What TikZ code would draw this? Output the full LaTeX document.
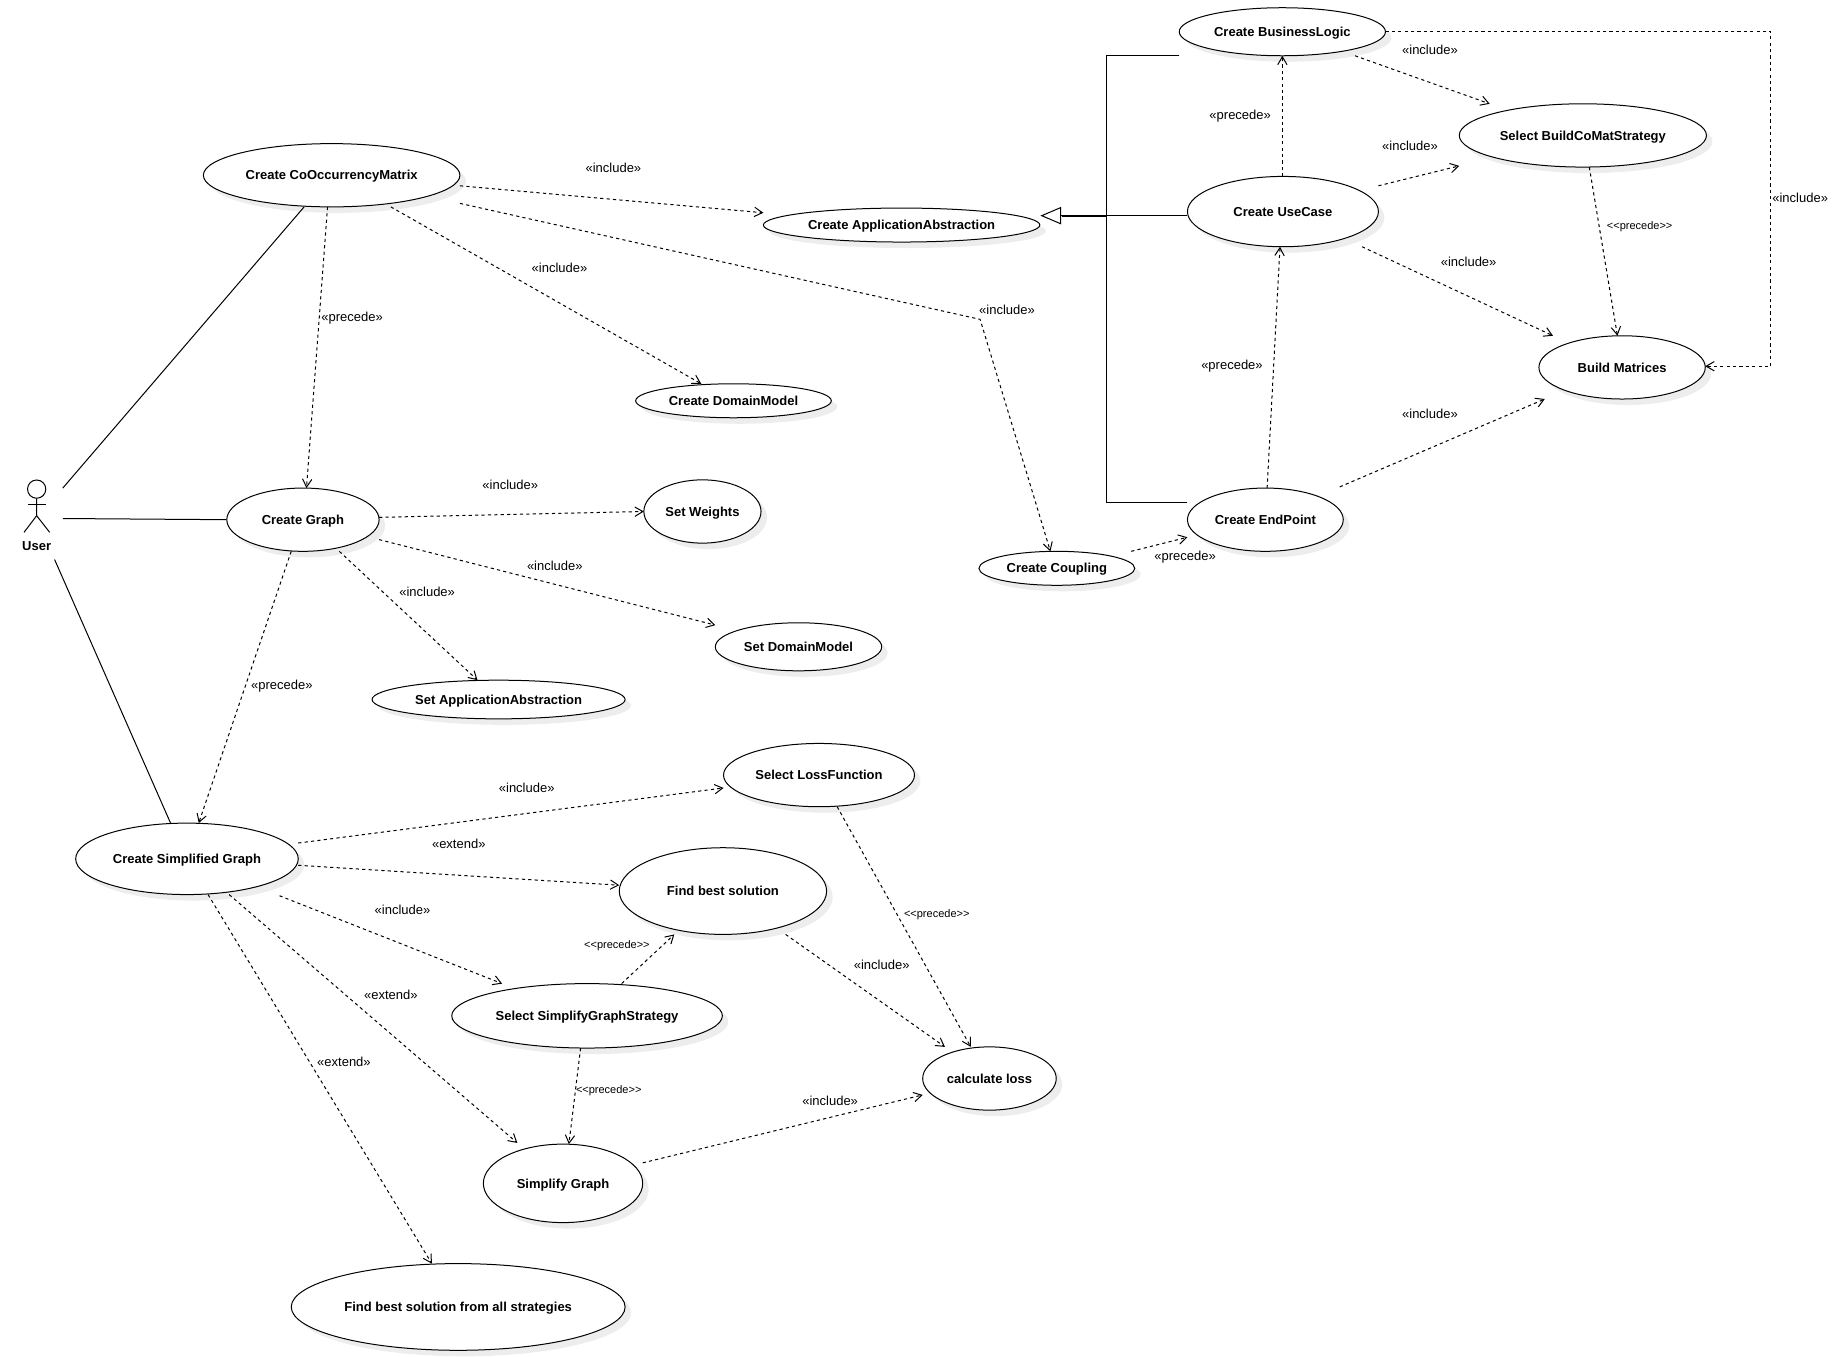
\documentclass[tikz,border=0pt]{standalone}
\usepackage{fontspec}
\setmainfont{Liberation Sans}
\usetikzlibrary{shapes.geometric,arrows.meta,calc,shadows}

\tikzset{
  usecase/.style 2 args={ellipse, draw, fill=white, line width=0.75pt, inner sep=0,
    minimum width=#1*0.8786pt, minimum height=#2*0.8786pt, text height=7pt, text depth=0pt,
    font=\bfseries\fontsize{9.75}{12}\selectfont,
    drop shadow={shadow xshift=4.5pt, shadow yshift=-4.5pt, fill=black!7, opacity=1}},
  lbl/.style={inner sep=0, text height=7pt, text depth=0pt, font=\fontsize{9.75}{12}\selectfont},
  smalllbl/.style={inner sep=0, text height=6pt, text depth=0pt, font=\fontsize{8.25}{10}\selectfont},
}

\begin{document}
\begin{tikzpicture}[x=0.8786pt, y=-0.8786pt]
        \useasboundingbox (-0.6,-0.6) rectangle (1568.3,1157.7);

        % actor
        \node[circle, draw, line width=0.75pt, minimum size=13.7pt, inner sep=0] (userhead) at (30.7,416.9) {};
        \node[lbl, font=\bfseries\fontsize{9.75}{12}\selectfont] (user) at (30.7,465.6) {User};
        \coordinate (userhip) at (30.7,439.6);
        \coordinate (userhandl) at (23.3,429.7);
        \coordinate (userhandr) at (38.4,429.7);
        \coordinate (userfootl) at (19.9,453.8);
        \coordinate (userfootr) at (41.8,453.8);
        \draw[line width=0.75pt] (userhead.south) -- (userhip) -- (userfootl);
        \draw[line width=0.75pt] (userhip) -- (userfootr);
        \draw[line width=0.75pt] (userhandl) -- (userhandr);

        % use cases
        \node[usecase={219}{54}] (cooc) at (282.5,149) {Create CoOccurrencyMatrix};
        \node[usecase={236}{29}] (appabs) at (769,191.5) {Create ApplicationAbstraction};
        \node[usecase={176}{41}] (business) at (1094,26.5) {Create BusinessLogic};
        \node[usecase={211}{54}] (buildstrat) at (1350.5,115) {Select BuildCoMatStrategy};
        \node[usecase={163}{60}] (usecasenode) at (1094.5,180) {Create UseCase};
        \node[usecase={142}{54}] (matrices) at (1384,313) {Build Matrices};
        \node[usecase={167}{29}] (domain) at (625.5,341.5) {Create DomainModel};
        \node[usecase={130}{54}] (graph) at (258,443) {Create Graph};
        \node[usecase={100}{54}] (weights) at (599,436) {Set Weights};
        \node[usecase={133}{54}] (endpoint) at (1079.5,443) {Create EndPoint};
        \node[usecase={133}{29}] (coupling) at (901.5,484.5) {Create Coupling};
        \node[usecase={142}{41}] (setdomain) at (681,551.5) {Set DomainModel};
        \node[usecase={216}{33}] (setapp) at (425,596.5) {Set ApplicationAbstraction};
        \node[usecase={163}{54}] (loss) at (698.5,661) {Select LossFunction};
        \node[usecase={190}{61}] (simplified) at (159,732.5) {Create Simplified Graph};
        \node[usecase={177}{74}] (findbest) at (616.5,760) {Find best solution};
        \node[usecase={231}{55}] (simpstrat) at (500.5,866.5) {Select SimplifyGraphStrategy};
        \node[usecase={114}{54}] (calcloss) at (844,920) {calculate loss};
        \node[usecase={136}{67}] (simplify) at (480,1009.5) {Simplify Graph};
        \node[usecase={285}{74}] (findall) at (390.5,1115) {Find best solution from all strategies};

        % solid lines
        \begin{scope}[every path/.style={line width=0.75pt}]
                \path ($(user)+(22.3,-49.6)$) edge ($(cooc)+(-23.5,27)$);
                \path ($(user)+(22.3,-23.6)$) edge (graph.west);
                \path ($(user)+(15.3,11.4)$) edge ($(simplified)+(-14,-30.5)$);
        \end{scope}

        % generalization
        \coordinate (trunk) at (944,183);
        \coordinate (trunklow) at (944,184);
        \coordinate (wedge) at (905.5,183);
        \begin{scope}[every path/.style={line width=0.75pt}]
                \draw ($(business)+(-88,20.5)$) -| (trunk) -- (wedge);
                \draw ($(endpoint)+(-66.5,-15)$) -| (trunklow) -- ($(wedge)+(0,1)$);
                \draw[-{Triangle[open, fill=white, length=15.5pt, width=13pt]}] ($(usecasenode)+(-81.5,3.5)$) -- ($(appabs)+(118.5,-8)$);
        \end{scope}

        % dependencies
        \begin{scope}[every path/.style={line width=0.75pt, dash pattern=on 2.4pt off 2.4pt, ->, >={Straight Barb[length=6pt, width=7pt]}}]
                \path ($(cooc)+(109.5,9)$) edge ($(appabs)+(-118,-10.5)$);
                \path ($(cooc)+(50.5,27)$) edge ($(domain)+(-27.5,-14.5)$);
                \coordinate (couplingbend) at (836,272);
                \draw ($(cooc)+(109.5,24)$) -- (couplingbend) -- ($(coupling)+(-5.5,-14.5)$);
                \path ($(cooc)+(-3.5,27)$) edge ($(graph)+(3,-27)$);
                \path ($(graph)+(65,-2)$) edge ($(weights)+(-50,0)$);
                \path ($(graph)+(65,17)$) edge ($(setdomain)+(-71,-18.5)$);
                \path ($(graph)+(31,27)$) edge ($(setapp)+(-18,-16.5)$);
                \path ($(graph)+(-10,27)$) edge ($(simplified)+(10,-30.5)$);
                \path ($(simplified)+(95,-13.5)$) edge ($(loss)+(-81.5,11)$);
                \path ($(simplified)+(95,5.5)$) edge ($(findbest)+(-88.5,-5)$);
                \path ($(simplified)+(79,31.5)$) edge ($(simpstrat)+(-72.5,-27.5)$);
                \path ($(simplified)+(36,30.5)$) edge ($(simplify)+(-39,-34.5)$);
                \path ($(simplified)+(18,30.5)$) edge ($(findall)+(-22.5,-37)$);
                \path ($(simpstrat)+(29.5,-27.5)$) edge ($(findbest)+(-41.5,37)$);
                \path ($(simpstrat)+(-5.5,27.5)$) edge ($(simplify)+(5,-33.5)$);
                \path ($(findbest)+(53.5,37)$) edge ($(calcloss)+(-38,-27)$);
                \path ($(loss)+(15.5,27)$) edge ($(calcloss)+(-16,-27)$);
                \path ($(simplify)+(68,-17.5)$) edge ($(calcloss)+(-57,14)$);
                \path ($(coupling)+(63.5,-14.5)$) edge ($(endpoint)+(-66.5,15)$);
                \path ($(endpoint)+(1.5,-27)$) edge ($(usecasenode)+(-2.5,30)$);
                \path ($(usecasenode)+(-0.5,-30)$) edge ($(business)+(0,20.5)$);
                \path ($(business)+(62,20.5)$) edge ($(buildstrat)+(-79.5,-27)$);
                \path ($(usecasenode)+(81.5,-22)$) edge ($(buildstrat)+(-105.5,26)$);
                \path ($(usecasenode)+(67.5,30)$) edge ($(matrices)+(-59,-27)$);
                \path ($(buildstrat)+(5.5,27)$) edge ($(matrices)+(-4,-27)$);
                \path ($(endpoint)+(63.5,-28)$) edge ($(matrices)+(-66,27)$);
                \coordinate (loopa) at (1511,26);
                \coordinate (loopb) at (1511,312);
                \draw ($(business)+(88,-0.5)$) -- (loopa) -- (loopb) -- ($(matrices)+(71,-1)$);
        \end{scope}

        % labels
        \node[lbl] (lblcoocapp) at (523,143) {«include»};
        \node[lbl] (lblcoocdom) at (477,228) {«include»};
        \node[lbl] (lblcoocoup) at (859,264) {«include»};
        \node[lbl] (lblcoocgraph) at (300,270) {«precede»};
        \node[lbl] (lblweights) at (435,413) {«include»};
        \node[lbl] (lblsetdom) at (473,482) {«include»};
        \node[lbl] (lblsetapp) at (364,505) {«include»};
        \node[lbl] (lblgraphsimp) at (240,584) {«precede»};
        \node[lbl] (lblloss) at (449,672) {«include»};
        \node[lbl] (lblfindbest) at (391,720) {«extend»};
        \node[lbl] (lblsimpstrat) at (343,776) {«include»};
        \node[lbl] (lblsimplify) at (333,849) {«extend»};
        \node[lbl] (lblfindall) at (293,906) {«extend»};
        \node[smalllbl] (lblstratbest) at (526,806) {<{}<precede>{}>};
        \node[smalllbl] (lblstratsimp) at (519,929) {<{}<precede>{}>};
        \node[smalllbl] (lbllosscalc) at (799,779) {<{}<precede>{}>};
        \node[lbl] (lblbestcalc) at (752,823) {«include»};
        \node[lbl] (lblsimpcalc) at (708,939) {«include»};
        \node[lbl] (lblcoupend) at (1011,474) {«precede»};
        \node[lbl] (lblenduse) at (1051,311) {«precede»};
        \node[lbl] (lblusebus) at (1058,97) {«precede»};
        \node[lbl] (lblbusstrat) at (1220,42) {«include»};
        \node[lbl] (lblusestrat) at (1203,124) {«include»};
        \node[lbl] (lblusemat) at (1253,223) {«include»};
        \node[lbl] (lblbusmat) at (1536,168) {«include»};
        \node[smalllbl] (lblstratmat) at (1399,192) {<{}<precede>{}>};
        \node[lbl] (lblendmat) at (1220,353) {«include»};
\end{tikzpicture}
\end{document}
